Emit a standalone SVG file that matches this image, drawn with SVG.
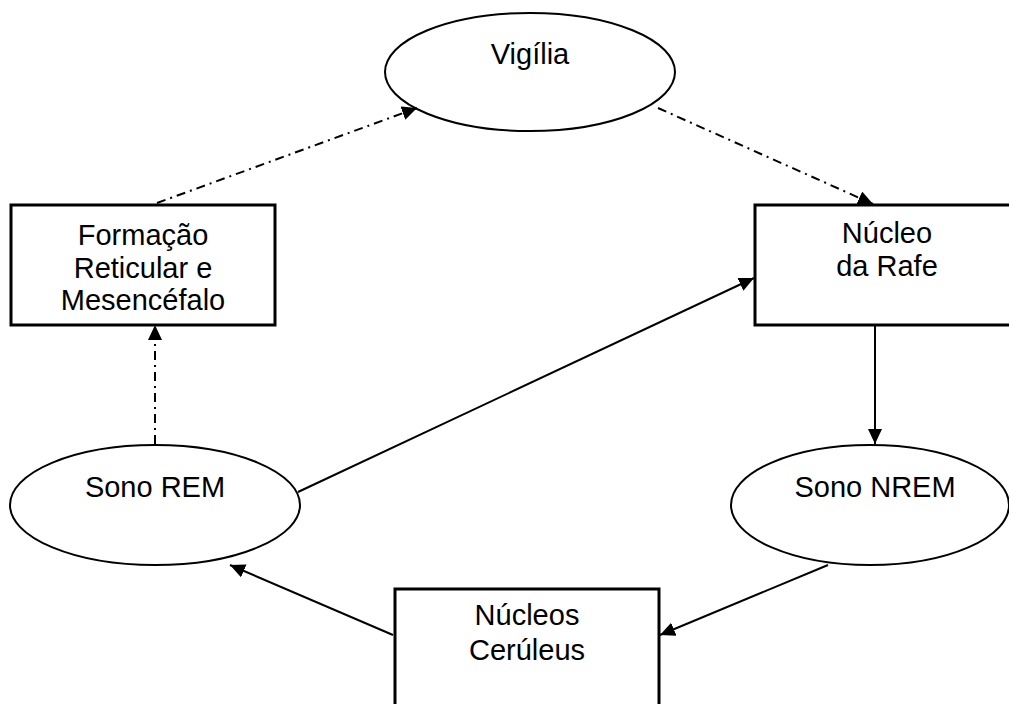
<svg xmlns="http://www.w3.org/2000/svg" width="1009" height="704" viewBox="0 0 1009 704">
  <style>
    .box { fill: #fff; stroke: #000; stroke-width: 3; }
    .ell { fill: #fff; stroke: #000; stroke-width: 2; }
    .lbl { font-family: "Liberation Sans", Arial, sans-serif; font-size: 29px; fill: #000; text-anchor: middle; }
    .conn { fill: none; stroke: #000; stroke-width: 2; marker-end: url(#arrow); }
    .dashdot { stroke-dasharray: 9 5 2 5; }
  </style>
  <defs>
    <marker id="arrow" markerUnits="userSpaceOnUse" markerWidth="16" markerHeight="16" refX="15" refY="7" orient="auto">
      <path d="M0,0 L15,7 L0,14 z" fill="#000"/>
    </marker>
  </defs>
  <rect width="1009" height="704" fill="#fff"/>

  <g id="vigilia">
    <ellipse class="ell" cx="530" cy="72" rx="145" ry="59"/>
    <text class="lbl" x="530" y="64">Vigília</text>
  </g>

  <g id="formacao">
    <rect class="box" x="11" y="205" width="264" height="120"/>
    <text class="lbl" x="143" y="245">Formação</text>
    <text class="lbl" x="143" y="278">Reticular e</text>
    <text class="lbl" x="143" y="310">Mesencéfalo</text>
  </g>

  <g id="nucleo-rafe">
    <rect class="box" x="755" y="205" width="270" height="120"/>
    <text class="lbl" x="887" y="243">Núcleo</text>
    <text class="lbl" x="887" y="276">da Rafe</text>
  </g>

  <g id="sono-rem">
    <ellipse class="ell" cx="155" cy="505" rx="145" ry="60"/>
    <text class="lbl" x="155" y="497">Sono REM</text>
  </g>

  <g id="sono-nrem">
    <ellipse class="ell" cx="870" cy="505" rx="139" ry="60"/>
    <text class="lbl" x="875" y="497">Sono NREM</text>
  </g>

  <g id="nucleos-ceruleus">
    <rect class="box" x="395" y="589" width="264" height="130"/>
    <text class="lbl" x="527" y="625">Núcleos</text>
    <text class="lbl" x="527" y="660">Cerúleus</text>
  </g>

  <g id="connectors">
    <line class="conn dashdot" x1="157" y1="203" x2="417" y2="108"/>
    <line class="conn dashdot" x1="658" y1="108" x2="873" y2="204"/>
    <line class="conn dashdot" x1="155" y1="444" x2="155" y2="325"/>
    <line class="conn" x1="298" y1="492" x2="754" y2="278"/>
    <line class="conn" x1="875" y1="325" x2="875" y2="444"/>
    <line class="conn" x1="828" y1="565" x2="660" y2="635"/>
    <line class="conn" x1="393" y1="635" x2="230" y2="565"/>
  </g>
</svg>
